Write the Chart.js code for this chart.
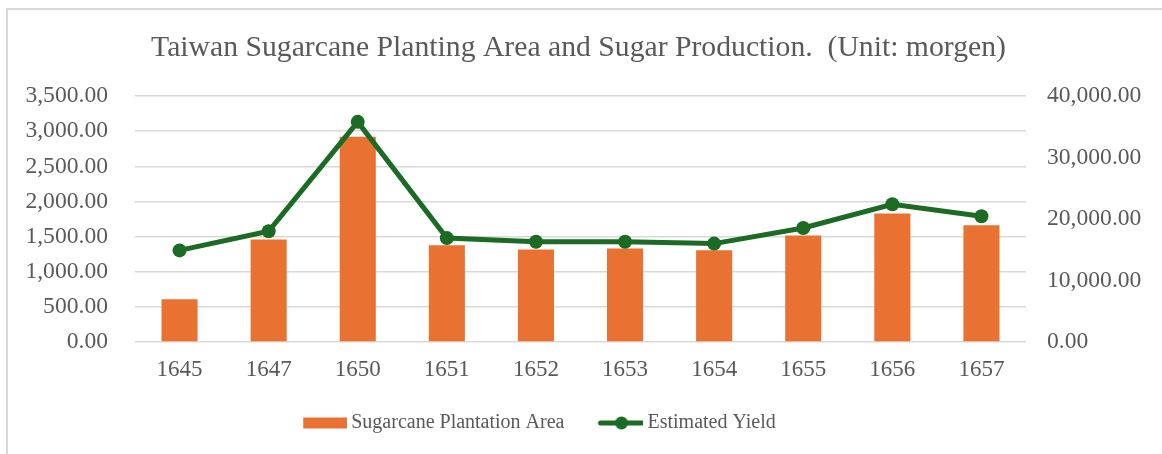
<!DOCTYPE html>
<html>
<head>
<meta charset="utf-8">
<script src="https://cdn.jsdelivr.net/npm/chart.js@4.4.1/dist/chart.umd.min.js"></script>
<style>
html,body{margin:0;padding:0;background:#fff;}
#wrap{width:1162px;height:454px;position:relative;}
</style>
</head>
<body>
<div id="wrap"><canvas id="c" width="1162" height="454"></canvas></div>
<script>
const years = ['1645','1647','1650','1651','1652','1653','1654','1655','1656','1657'];
const plantationArea = [610, 1460, 2920, 1375, 1315, 1330, 1305, 1515, 1830, 1660];
const estimatedYield = [14900, 18000, 35800, 16900, 16300, 16300, 16000, 18550, 22400, 20450];
const leftTicks = [0, 500, 1000, 1500, 2000, 2500, 3000, 3500];
const rightTicks = [0, 10000, 20000, 30000, 40000];
const titleText = 'Taiwan Sugarcane Planting Area and Sugar Production.  (Unit: morgen)';
const seriesNames = ['Sugarcane Plantation Area', 'Estimated Yield'];

const ORANGE = '#E97132';
const GREEN = '#1B6B24';
const TEXT = '#595959';
const GRID = '#D9D9D9';
const FONT = '"Liberation Serif", "Times New Roman", serif';

const fmt = v => Number(v).toLocaleString('en-US', {minimumFractionDigits: 2, maximumFractionDigits: 2});

function swatchBar() {
  const c = document.createElement('canvas'); c.width = 58; c.height = 12;
  const x = c.getContext('2d'); x.fillStyle = ORANGE; x.fillRect(14, 0.5, 44, 11); return c;
}
function swatchLine() {
  const c = document.createElement('canvas'); c.width = 58; c.height = 16;
  const x = c.getContext('2d');
  x.strokeStyle = GREEN; x.lineWidth = 5; x.lineCap = 'round';
  x.beginPath(); x.moveTo(15, 8); x.lineTo(57, 8); x.stroke();
  x.fillStyle = GREEN; x.beginPath(); x.arc(36, 8, 6.5, 0, Math.PI * 2); x.fill();
  return c;
}

const borderPlugin = {
  id: 'outerBorder',
  beforeDraw(chart) {
    const ctx = chart.ctx;
    ctx.save();
    ctx.fillStyle = '#fff';
    ctx.fillRect(0, 0, chart.width, chart.height);
    ctx.strokeStyle = GRID; ctx.lineWidth = 2;
    ctx.beginPath();
    ctx.moveTo(7, chart.height + 5); ctx.lineTo(7, 9); ctx.lineTo(chart.width + 5, 9);
    ctx.stroke();
    ctx.restore();
  },
  afterLayout(chart) {
    const lg = chart.legend;
    if (lg) { lg.left -= 49; lg.right -= 49; lg.top = 386; lg.bottom = lg.top + lg.height; }
    const tb = chart.titleBlock;
    if (tb) { tb.left -= 6; tb.right -= 6; tb.top += 1; tb.bottom += 1; }
  }
};

new Chart(document.getElementById('c'), {
  data: {
    labels: years,
    datasets: [
      {
        type: 'line', label: seriesNames[1], data: estimatedYield, yAxisID: 'y2',
        borderColor: GREEN, backgroundColor: GREEN, borderWidth: 5,
        pointRadius: 7, pointHoverRadius: 7, pointBackgroundColor: GREEN, pointBorderWidth: 0,
        tension: 0, order: 0
      },
      {
        type: 'bar', label: seriesNames[0], data: plantationArea, yAxisID: 'y',
        backgroundColor: ORANGE, borderWidth: 0,
        categoryPercentage: 1, barPercentage: 0.405, order: 1
      }
    ]
  },
  options: {
    responsive: false, animation: false,
    layout: {padding: {top: 0, left: 7, right: 0, bottom: 13}},
    plugins: {
      tooltip: {enabled: false},
      title: {
        display: true, text: titleText, color: TEXT,
        font: {family: FONT, size: 29.7, weight: 'normal', lineHeight: 1.2},
        padding: {top: 29.3, bottom: 31.1}
      },
      legend: {
        position: 'bottom',
        labels: {
          color: TEXT, font: {family: FONT, size: 20},
          usePointStyle: true, pointStyleWidth: 46, padding: 27,
          generateLabels(chart) {
            return [
              {text: seriesNames[0], pointStyle: swatchBar(), fontColor: TEXT, datasetIndex: 1, lineWidth: 0, hidden: false},
              {text: seriesNames[1], pointStyle: swatchLine(), fontColor: TEXT, datasetIndex: 0, lineWidth: 0, hidden: false}
            ];
          }
        }
      }
    },
    scales: {
      x: {
        afterFit(s) { s.height = 42; },
        grid: {display: false, drawTicks: false},
        border: {display: false},
        ticks: {color: TEXT, font: {family: FONT, size: 23}, padding: 14, maxRotation: 0}
      },
      y: {
        position: 'left', min: 0, max: 3500,
        afterFit(s) { s.width = 128; },
        afterBuildTicks(s) { s.ticks = leftTicks.map(v => ({value: v})); },
        grid: {color: GRID, lineWidth: 1.5, drawTicks: false},
        border: {display: false},
        ticks: {color: TEXT, font: {family: FONT, size: 23.6}, padding: 27, callback: v => fmt(v)}
      },
      y2: {
        position: 'right', min: 0, max: 40000,
        afterFit(s) { s.width = 136; },
        afterBuildTicks(s) { s.ticks = rightTicks.map(v => ({value: v})); },
        grid: {display: false, drawTicks: false},
        border: {display: false},
        ticks: {color: TEXT, font: {family: FONT, size: 23.6}, padding: 21, callback: v => fmt(v)}
      }
    }
  },
  plugins: [borderPlugin]
});
</script>
</body>
</html>
